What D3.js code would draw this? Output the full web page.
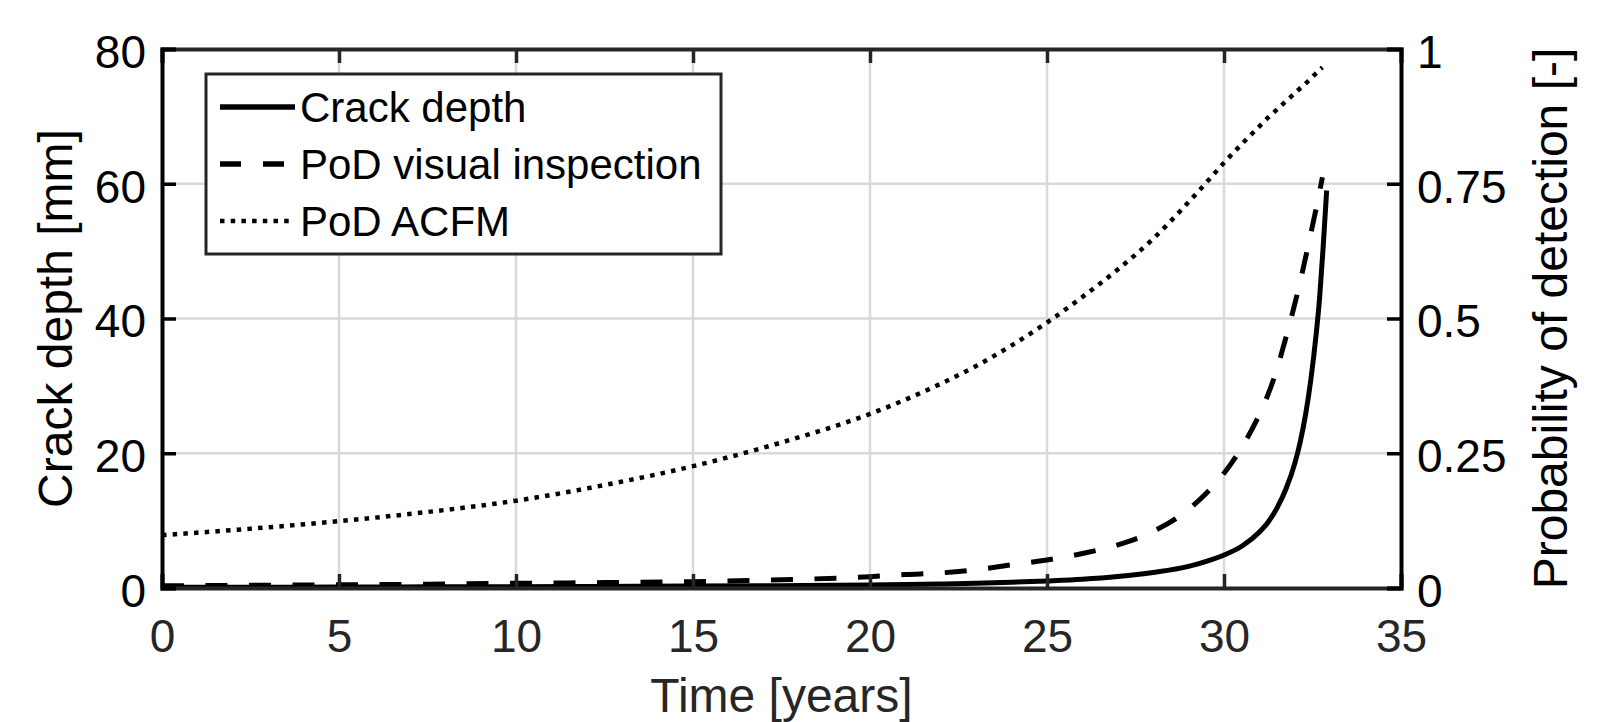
<!DOCTYPE html>
<html>
<head>
<meta charset="utf-8">
<script src="https://cdn.jsdelivr.net/npm/d3@7"></script>
<style>
  body { margin: 0; background: #fff; }
  text { font-family: "Liberation Sans", Arial, sans-serif; }
</style>
</head>
<body>
<div id="chart"></div>
<script>
// data
let crackYears = [0, 2.5, 5, 7.5, 10, 12.5, 15, 17.5, 20, 21, 22, 23, 24, 25, 26, 27, 28, 29, 29.5, 30,
  30.5, 31, 31.25, 31.5, 31.75, 32, 32.15, 32.3, 32.45, 32.6, 32.7, 32.8, 32.9];
let crackDepth = [0.1, 0.12, 0.14, 0.17, 0.2, 0.24, 0.28, 0.35, 0.45, 0.52, 0.6, 0.7, 0.85, 1.05, 1.3, 1.7, 2.3, 3.2, 3.95, 4.9,
  6.2, 8.3, 9.8, 11.9, 14.7, 18.5, 21.6, 25.6, 30.8, 37.5, 43.0, 50.5, 59];

let podYears = [0, 2.5, 5, 7.5, 10, 12.5, 15, 17.5, 20, 21, 22, 23, 24, 25, 26, 27, 28, 29, 29.5, 30,
  30.5, 31, 31.25, 31.5, 31.75, 32, 32.2, 32.4, 32.6, 32.78];
let podVisual = [0.004, 0.005, 0.006, 0.007, 0.0087, 0.010, 0.0117, 0.0152, 0.021, 0.025, 0.028, 0.034, 0.043, 0.052, 0.064, 0.08, 0.105, 0.146, 0.176, 0.213,
  0.261, 0.322, 0.36, 0.407, 0.465, 0.527, 0.582, 0.642, 0.703, 0.762];
let podAcfm = [0.098, 0.110, 0.124, 0.141, 0.162, 0.191, 0.226, 0.270, 0.323, 0.3495, 0.379, 0.412, 0.450, 0.4925, 0.540, 0.591, 0.648, 0.716, 0.752, 0.789,
  0.8235, 0.8565, 0.873, 0.888, 0.903, 0.918, 0.930, 0.942, 0.955, 0.966];

let xTicks = [0, 5, 10, 15, 20, 25, 30, 35];
let leftTicks = [0, 20, 40, 60, 80];
let rightTicks = [0, 0.25, 0.5, 0.75, 1];
let rightTickLabels = ["0", "0.25", "0.5", "0.75", "1"];

let legendNames = ["Crack depth", "PoD visual inspection", "PoD ACFM"];

// svg size and margins
let svgWidth = 1613;
let svgHeight = 722;
let margin = { top: 49, right: 212, bottom: 134, left: 162 };
let width = svgWidth - margin.left - margin.right;
let height = svgHeight - margin.top - margin.bottom;

let svg = d3.select("#chart")
  .append("svg")
  .attr("width", svgWidth)
  .attr("height", svgHeight);

let chartGroup = svg.append("g")
  .attr("transform", `translate(${margin.left}, ${margin.top})`);

// scales
let xScale = d3.scaleLinear().domain([0, 35]).range([0, width]);
let yLeft = d3.scaleLinear().domain([0, 80]).range([height, 0]);
let yRight = d3.scaleLinear().domain([0, 1]).range([height, 0]);

let dark = "#262626";
let tickLen = 14;

// grid
chartGroup.append("g")
  .selectAll("line")
  .data(xTicks.slice(1, -1))
  .join("line")
  .attr("x1", d => xScale(d)).attr("x2", d => xScale(d))
  .attr("y1", 0).attr("y2", height)
  .attr("stroke", "#d9d9d9")
  .attr("stroke-width", 2.5);

chartGroup.append("g")
  .selectAll("line")
  .data(leftTicks.slice(1, -1))
  .join("line")
  .attr("x1", 0).attr("x2", width)
  .attr("y1", d => yLeft(d)).attr("y2", d => yLeft(d))
  .attr("stroke", "#d9d9d9")
  .attr("stroke-width", 2.5);

// lines
let crackLine = d3.line()
  .x((d, i) => xScale(crackYears[i]))
  .y(d => yLeft(d))
  .curve(d3.curveMonotoneX);

let podLine = d3.line()
  .x((d, i) => xScale(podYears[i]))
  .y(d => yRight(d))
  .curve(d3.curveMonotoneX);

chartGroup.append("path")
  .datum(podAcfm)
  .attr("d", podLine)
  .attr("fill", "none")
  .attr("stroke", "#000")
  .attr("stroke-width", 4.5)
  .attr("stroke-dasharray", "4.5,6.2");

chartGroup.append("path")
  .datum(podVisual)
  .attr("d", podLine)
  .attr("fill", "none")
  .attr("stroke", "#000")
  .attr("stroke-width", 5)
  .attr("stroke-dasharray", "22,21.5");

chartGroup.append("path")
  .datum(crackDepth)
  .attr("d", crackLine)
  .attr("fill", "none")
  .attr("stroke", "#000")
  .attr("stroke-width", 5);

// axes (matlab style box with inner ticks)
let bottomAxis = d3.axisBottom(xScale).tickValues(xTicks).tickSize(-tickLen).tickPadding(0).tickFormat(d3.format("d"));
let topAxis = d3.axisTop(xScale).tickValues(xTicks).tickSize(-tickLen).tickFormat("");
let leftAxis = d3.axisLeft(yLeft).tickValues(leftTicks).tickSize(-tickLen).tickFormat(d3.format("d"));
let rightAxis = d3.axisRight(yRight).tickValues(rightTicks).tickSize(-tickLen)
  .tickFormat((d, i) => rightTickLabels[i]);

let xAxisG = chartGroup.append("g")
  .attr("transform", `translate(0, ${height})`)
  .call(bottomAxis);
xAxisG.selectAll("text")
  .attr("y", 64)
  .attr("dy", 0)
  .attr("fill", dark)
  .style("font-size", "46px");

let topG = chartGroup.append("g").call(topAxis);

let leftG = chartGroup.append("g").call(leftAxis);
leftG.selectAll("text")
  .attr("x", -16)
  .attr("dy", "0.4em")
  .attr("fill", "#000")
  .style("font-size", "46px");

let rightG = chartGroup.append("g")
  .attr("transform", `translate(${width}, 0)`)
  .call(rightAxis);
rightG.selectAll("text")
  .attr("x", 16)
  .attr("dy", "0.4em")
  .attr("fill", "#000")
  .style("font-size", "46px");

[xAxisG, topG].forEach(g => {
  g.select(".domain").attr("stroke", dark).attr("stroke-width", 4);
  g.selectAll(".tick line").attr("stroke", dark).attr("stroke-width", 3.5);
});
[leftG, rightG].forEach(g => {
  g.select(".domain").attr("stroke", "#000").attr("stroke-width", 4);
  g.selectAll(".tick line").attr("stroke", "#000").attr("stroke-width", 3.5);
});

// axis labels
chartGroup.append("text")
  .attr("x", width / 2)
  .attr("y", height + 124)
  .attr("text-anchor", "middle")
  .attr("fill", dark)
  .style("font-size", "48px")
  .text("Time [years]");

chartGroup.append("text")
  .attr("transform", "rotate(-90)")
  .attr("x", -height / 2)
  .attr("y", 72 - margin.left)
  .attr("text-anchor", "middle")
  .attr("fill", "#000")
  .style("font-size", "48px")
  .text("Crack depth [mm]");

chartGroup.append("text")
  .attr("transform", "rotate(-90)")
  .attr("x", -height / 2)
  .attr("y", 1567 - margin.left)
  .attr("text-anchor", "middle")
  .attr("fill", "#000")
  .style("font-size", "48px")
  .text("Probability of detection [-]");

// legend
let legend = svg.append("g")
  .attr("transform", "translate(206, 74)");

legend.append("rect")
  .attr("x", 0).attr("y", 0)
  .attr("width", 515).attr("height", 180)
  .attr("fill", "#fff")
  .attr("stroke", dark)
  .attr("stroke-width", 3);

let legendStyles = [
  { dash: null, w: 5.5, x2: 89 },
  { dash: "21,22", w: 5.5, x2: 80 },
  { dash: "4.5,6.2", w: 4.5, x2: 86 }
];

legendNames.forEach((name, i) => {
  let rowY = 33 + i * 57;
  legend.append("line")
    .attr("x1", 14).attr("x2", legendStyles[i].x2)
    .attr("y1", rowY).attr("y2", rowY)
    .attr("stroke", "#000")
    .attr("stroke-width", legendStyles[i].w)
    .attr("stroke-dasharray", legendStyles[i].dash);
  legend.append("text")
    .attr("x", 94)
    .attr("y", rowY + 15)
    .attr("fill", "#000")
    .style("font-size", "42px")
    .text(name);
});
</script>
</body>
</html>
